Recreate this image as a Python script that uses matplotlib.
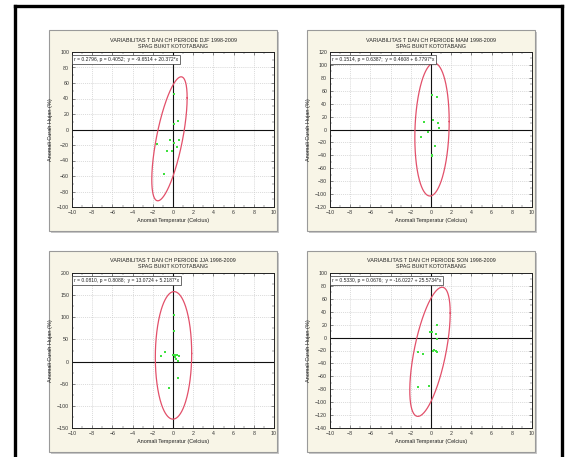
import numpy as np
import matplotlib
matplotlib.use("Agg")
import matplotlib.pyplot as plt
from matplotlib.patches import Rectangle
from matplotlib.lines import Line2D
from matplotlib.ticker import MultipleLocator

plt.rcParams['font.family'] = ['Liberation Sans', 'DejaVu Sans']

# ---------------- data ----------------
titles = [
    "VARIABILITAS T DAN CH PERIODE DJF 1998-2009",
    "VARIABILITAS T DAN CH PERIODE MAM 1998-2009",
    "VARIABILITAS T DAN CH PERIODE JJA 1998-2009",
    "VARIABILITAS T DAN CH PERIODE SON 1998-2009",
]
subtitle = "SPAG BUKIT KOTOTABANG"
annotations = [
    "r = 0.2796, p = 0.4052;  y = -9.6514 + 20.372*x",
    "r = 0.1514, p = 0.6387;  y = 0.4608 + 6.7797*x",
    "r = 0.0810, p = 0.8088;  y = 13.0724 + 5.2187*x",
    "r = 0.5330, p = 0.0676;  y = -16.0227 + 25.5734*x",
]
xlabel = "Anomali Temperatur (Celcius)"
ylabel = "Anomali Curah Hujan (%)"

djf_t = [0.1, 0.5, 0.05, -0.3, 0.6, 0.1, 0.4, -1.6, -0.6, -0.1, -0.9]
djf_ch = [46, 11, 7, -13, -13, -18, -22, -19, -28, -28, -57]

mam_t = [0.1, 0.6, 0.2, -0.7, 0.7, 0.8, -0.3, -1.0, 0.4, 0.1, 0.1]
mam_ch = [54, 51, 15, 12, 10, 2, -4, -12, -26, -39, -41]

jja_t = [0.1, 0.05, -1.2, -0.8, 0.0, 0.2, 0.4, 0.6, 0.3, 0.5, 0.2, 0.5, -0.4]
jja_ch = [105, 70, 13, 22, 15, 15, 14, 13, 5, 2, 10, -38, -60]

son_t = [0.6, -0.1, 0.1, 0.5, 0.6, -1.3, -0.8, 0.2, 0.3, 0.5, 0.6, -1.3, -0.2]
son_ch = [19, 9, 8, 5, -2, -22, -25, -20, -19, -21, -22, -77, -75]

series_t = [djf_t, mam_t, jja_t, son_t]
series_ch = [djf_ch, mam_ch, jja_ch, son_ch]

# ellipse: centre x, centre y, half-extent x, half-extent y, correlation
ellipses = [
    (-0.35, -12, 1.75, 80, 0.66),
    (0.1, 0, 1.7, 103, 0.12),
    (0.05, 14, 1.8, 144, 0.03),
    (-0.1, -22, 2.0, 100, 0.6),
]

ylims = [(-100, 100), (-120, 120), (-150, 200), (-140, 100)]
ysteps = [20, 20, 50, 20]
xlim = (-10, 10)
xstep = 2

# ---------------- layout ----------------
W, H = 568, 457
fig = plt.figure(figsize=(W / 100, H / 100), dpi=100)
fig.patch.set_facecolor('white')

def fx(px):
    return px / W

def fy(py):
    return 1 - py / H

# outer black frame
for xs, ys in [((15.5, 15.5), (5.5, 460)), ((561.5, 561.5), (5.5, 460)), ((15.5, 561.5), (5.5, 5.5))]:
    fig.add_artist(Line2D([fx(xs[0]), fx(xs[1])], [fy(ys[0]), fy(ys[1])],
                          color='black', lw=2.4, transform=fig.transFigure, zorder=5))

panel_x = [49, 307, 49, 307]
panel_y = [30, 30, 251, 251]
panel_w, panel_h = 228, 201
ax_off_x, ax_w = 23, 202
ax_off_y, ax_h = 22, 155

for i in range(4):
    px, py = panel_x[i], panel_y[i]
    # shadow and panel
    fig.add_artist(Rectangle((fx(px + 1.5), fy(py + panel_h + 1.5)), panel_w / W, panel_h / H,
                             transform=fig.transFigure, facecolor='#c8c8c8', edgecolor='none', zorder=-2))
    fig.add_artist(Rectangle((fx(px), fy(py + panel_h)), panel_w / W, panel_h / H,
                             transform=fig.transFigure, facecolor='#f8f5e7', edgecolor='#9a9a9a',
                             lw=0.8, zorder=-1))

    ax = fig.add_axes([fx(px + ax_off_x), fy(py + ax_off_y + ax_h), ax_w / W, ax_h / H])
    ax.set_zorder(1)
    ax.set_facecolor('white')
    ax.set_xlim(*xlim)
    ax.set_ylim(*ylims[i])
    ax.xaxis.set_major_locator(MultipleLocator(xstep))
    ax.xaxis.set_minor_locator(MultipleLocator(xstep / 2))
    ax.yaxis.set_major_locator(MultipleLocator(ysteps[i]))
    ax.yaxis.set_minor_locator(MultipleLocator(ysteps[i] / 2))
    ax.tick_params(which='both', direction='in', top=True, right=True,
                   labelsize=3.8, colors='#333333', pad=2)
    ax.tick_params(which='major', length=2.2, width=0.4)
    ax.tick_params(which='minor', length=1.2, width=0.3)
    for s in ax.spines.values():
        s.set_color('#222222')
        s.set_linewidth(0.7)
    ax.grid(True, which='major', color='#cdcdcd', lw=0.5, ls=(0, (1.5, 1.5)))
    ax.set_axisbelow(True)

    ax.axhline(0, color='#111111', lw=0.8, zorder=2)
    ax.axvline(0, color='#111111', lw=0.8, zorder=2)

    cx, cy, sx, sy, rho = ellipses[i]
    t = np.linspace(0, 2 * np.pi, 300)
    ex = cx + sx * np.cos(t)
    ey = cy + sy * (rho * np.cos(t) + np.sqrt(1 - rho ** 2) * np.sin(t))
    ax.plot(ex, ey, color='#e2506a', lw=0.9, zorder=3)

    ax.plot(series_t[i], series_ch[i], 's', color='#3fe03f', ms=1.9, mew=0, zorder=4)

    ax.text(-9.8, ylims[i][1] - (ylims[i][1] - ylims[i][0]) * 0.035, annotations[i],
            fontsize=3.6, va='top', ha='left', color='#222222', zorder=5,
            bbox=dict(boxstyle='square,pad=0.4', facecolor='white', edgecolor='#333333', lw=0.5))

    ax.set_xlabel(xlabel, fontsize=4.0, labelpad=2.5, color='#222222')
    ax.set_ylabel(ylabel, fontsize=4.0, labelpad=3, color='#222222')

    tx = fx(px + ax_off_x + ax_w / 2)
    fig.text(tx, fy(py + 10), titles[i], fontsize=3.9, ha='center', va='center', color='#222222')
    fig.text(tx, fy(py + 16), subtitle, fontsize=3.9, ha='center', va='center', color='#222222')

fig.savefig('out.png', dpi=100)
